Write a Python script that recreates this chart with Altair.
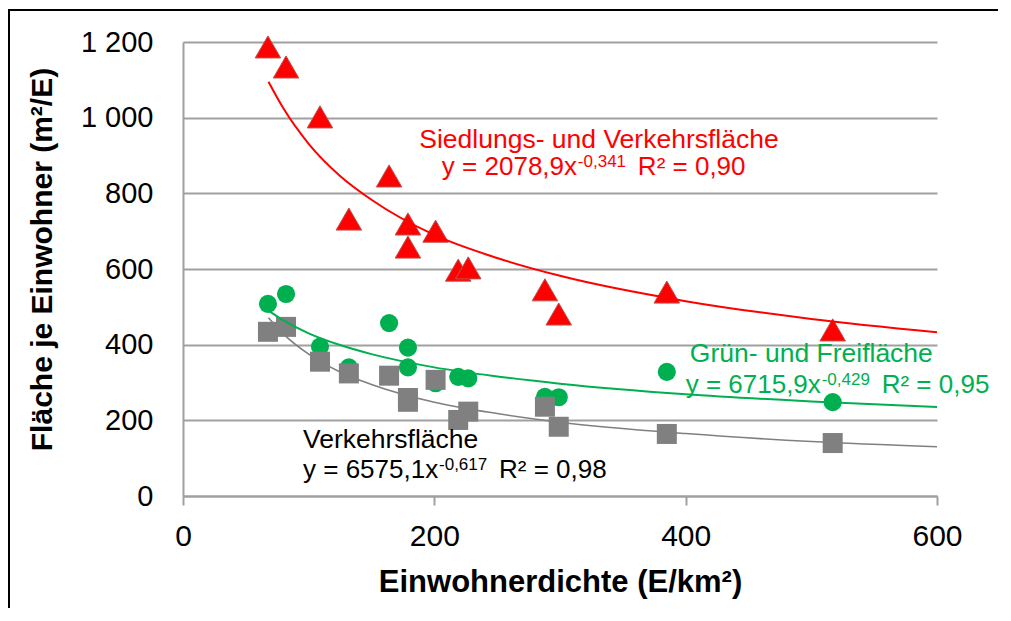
import altair as alt
import pandas as pd

# ---- data ----
dichte = [67.6, 82, 109, 132, 164, 179, 179, 201, 219, 227, 288, 299, 385, 517]
siedlung_verkehr = [1187, 1134, 1002, 732, 846, 719, 658, 700, 597, 603, 545, 481, 539, 439]
gruen_frei = [508, 534, 395, 340, 457, 392, 340, 298, 315, 311, 262, 261, 328, 248]
verkehr = [434, 447, 355, 324, 318, 259, 249, 307, 201, 223, 236, 183, 164, 140]

# trend lines
trend_x = [68, 80, 100, 125, 150, 200, 250, 300, 400, 500, 600]
trend_siedlung = [1095, 1024, 931, 846, 783, 690, 629, 582, 515, 468, 433]
trend_gruen = [490, 464, 430, 399, 375, 340, 316, 297, 269, 250, 235]
trend_verkehr = [471, 428, 375, 328, 295, 248, 218, 195, 165, 144, 130]

series = ["Siedlungs- und Verkehrsfläche", "Grün- und Freifläche", "Verkehrsfläche"]
y_ticks = [0, 200, 400, 600, 800, 1000, 1200]
x_ticks = [0, 200, 400, 600]

FONT = "Liberation Sans"
GRID = "#A0A0A0"

pts = pd.DataFrame(
    [{"dichte": x, "flaeche": y, "serie": s}
     for s, vals in zip(series, [siedlung_verkehr, gruen_frei, verkehr])
     for x, y in zip(dichte, vals)]
)
trend = pd.DataFrame(
    [{"dichte": x, "flaeche": y, "serie": s}
     for s, vals in zip(series, [trend_siedlung, trend_gruen, trend_verkehr])
     for x, y in zip(trend_x, vals)]
)

x_enc = alt.X(
    "dichte:Q",
    scale=alt.Scale(domain=[0, 600], nice=False, zero=False),
    axis=alt.Axis(
        values=x_ticks, grid=False, title="Einwohnerdichte (E/km²)",
        titleFontSize=31, titleFontWeight="bold", titleColor="black",
        titleX=377, titleY=95, titleBaseline="alphabetic", titleAlign="center",
        labelFontSize=30, labelColor="black", labelFlush=False, labelPadding=16,
        tickSize=9, tickColor=GRID, tickWidth=2, domainColor=GRID, domainWidth=2,
    ),
)
y_enc = alt.Y(
    "flaeche:Q",
    scale=alt.Scale(domain=[0, 1200], nice=False),
    axis=alt.Axis(
        values=y_ticks, grid=True, gridColor=GRID, gridWidth=2,
        title="Fläche je Einwohner (m²/E)",
        titleFontSize=30, titleFontWeight="bold", titleColor="black",
        titleX=-132, titleY=217, titleBaseline="alphabetic", titleAlign="center",
        labelFontSize=29, labelColor="black", labelPadding=30, ticks=False,
        domainColor=GRID, domainWidth=2,
        labelExpr="replace(format(datum.value, ','), ',', ' ')",
    ),
)

base = alt.Chart(pts)


def scatter(name, shape, color, size, **kw):
    return base.transform_filter(alt.datum.serie == name).mark_point(
        shape=shape, filled=True, fill=color, size=size, opacity=1, **kw
    ).encode(x=x_enc, y=y_enc)


def trendline(name, color, width):
    return alt.Chart(trend).transform_filter(alt.datum.serie == name).mark_line(
        color=color, strokeWidth=width, interpolate="monotone"
    ).encode(x="dichte:Q", y="flaeche:Q")


red = scatter(series[0], "triangle-up", "#FF0000", 650, stroke="#C0504D", strokeWidth=1)
green = scatter(series[1], "circle", "#00B050", 330, strokeWidth=0)
grey = scatter(series[2], "square", "#808080", 400, strokeWidth=0)

lines = [
    trendline(series[0], "#FF0000", 2),
    trendline(series[1], "#00B050", 2),
    trendline(series[2], "#808080", 1.6),
]

# annotation anchors (data coordinates)
anno_main = pd.DataFrame([
    {"x": 331, "y": 920, "t": "Siedlungs- und Verkehrsfläche", "c": "red", "a": "center"},
    {"x": 500, "y": 354, "t": "Grün- und Freifläche", "c": "green", "a": "center"},
    {"x": 95.5, "y": 127, "t": "Verkehrsfläche", "c": "grey", "a": "left"},
])
eq_x = [206, 400, 95.5]
eq_y = [848.5, 272, 47.6]
eq_main = ["y = 2078,9x", "y = 6715,9x", "y = 6575,1x"]
eq_exp = ["-0,341", "-0,429", "-0,617"]
eq_r2 = ["R² = 0,90", "R² = 0,95", "R² = 0,98"]
eq_col = ["red", "green", "grey"]
eqs = pd.DataFrame({"x": eq_x, "y": eq_y, "m": eq_main, "e": eq_exp, "r": eq_r2, "c": eq_col})

txt_scale = alt.Scale(domain=["red", "green", "grey"], range=["#FF0000", "#00B050", "#000000"])

texts = []
for a in ["center", "left"]:
    texts.append(
        alt.Chart(anno_main).transform_filter(alt.datum.a == a).mark_text(
            align=a, baseline="alphabetic", fontSize=26.5, font=FONT
        ).encode(x="x:Q", y="y:Q", text="t:N",
                 color=alt.Color("c:N", scale=txt_scale, legend=None))
    )
texts.append(
    alt.Chart(eqs).mark_text(align="left", baseline="alphabetic", fontSize=26, font=FONT)
    .encode(x="x:Q", y="y:Q", text="m:N", color=alt.Color("c:N", scale=txt_scale, legend=None))
)
texts.append(
    alt.Chart(eqs).mark_text(align="left", baseline="alphabetic", fontSize=17, font=FONT, dx=136, dy=-8)
    .encode(x="x:Q", y="y:Q", text="e:N", color=alt.Color("c:N", scale=txt_scale, legend=None))
)
texts.append(
    alt.Chart(eqs).mark_text(align="left", baseline="alphabetic", fontSize=26, font=FONT, dx=196)
    .encode(x="x:Q", y="y:Q", text="r:N", color=alt.Color("c:N", scale=txt_scale, legend=None))
)

# outer frame of the figure: only its top and left edges fall inside the picture
frame_src = alt.Chart(pd.DataFrame({"k": [0]}))
frame_left = frame_src.mark_rule(color="black", strokeWidth=2).encode(
    x=alt.value(-174), y=alt.value(-33), y2=alt.value(700)
)
frame_top = frame_src.mark_rule(color="black", strokeWidth=2).encode(
    x=alt.value(-175), x2=alt.value(815), y=alt.value(-32)
)
# white band at the far right edge (the frame's right side lies outside the figure)
edge_mask = frame_src.mark_rule(color="white", strokeWidth=8).encode(
    x=alt.value(814), y=alt.value(-30), y2=alt.value(700)
)

chart = alt.layer(
    frame_left, frame_top, red, green, grey, *lines, *texts, edge_mask
).properties(
    width=754, height=454,
    autosize=alt.AutoSizeParams(type="none"),
    padding={"left": 175, "top": 34, "right": 62, "bottom": 112},
    background="white",
).configure(font=FONT).configure_view(stroke=None).configure_axis(
    labelFont=FONT, titleFont=FONT
)

chart.save("out.html", embed_options={"renderer": "svg", "actions": False})
